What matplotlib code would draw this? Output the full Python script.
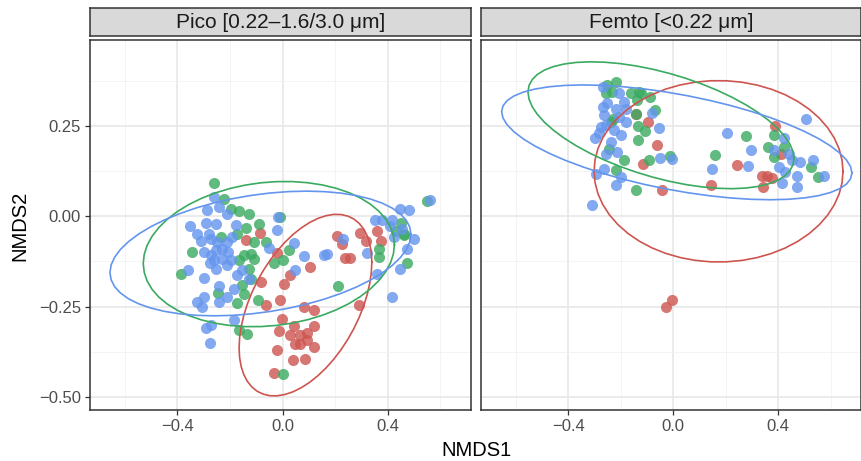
#!/usr/bin/env python3
# NMDS ordination, two size fractions, t-ellipses per group
import numpy as np
import matplotlib as mpl
import matplotlib.pyplot as plt

mpl.rcParams['font.family'] = ['Liberation Sans', 'DejaVu Sans']

facets = ['Pico [0.22\u20131.6/3.0 \u03bcm]', 'Femto [<0.22 \u03bcm]']
groups = ['red', 'green', 'blue']
colours = {'red': '#CD5550', 'green': '#3AAA60', 'blue': '#6495ED'}
ELLIPSE_LEVEL = 0.9

# ---- Pico panel ----
pico_red_x = [-0.141, -0.086, -0.021, 0.030, 0.007, -0.084, -0.065, -0.008, 0.104, 0.207,
              0.227, 0.294, 0.318, 0.239, 0.258, 0.360, 0.375, 0.290, 0.083, 0.119,
              -0.002, -0.014, 0.043, 0.030, 0.066, 0.091, 0.121, 0.049, 0.068, 0.093,
              0.119, -0.023, 0.040, 0.085, -0.033]
pico_red_y = [-0.065, -0.046, -0.102, -0.164, -0.187, -0.182, -0.247, -0.233, -0.141, -0.055,
              -0.078, -0.046, -0.069, -0.115, -0.115, -0.041, -0.069, -0.247, -0.250, -0.259,
              -0.284, -0.317, -0.303, -0.329, -0.329, -0.324, -0.304, -0.354, -0.354, -0.344,
              -0.363, -0.370, -0.398, -0.395, -0.435]

pico_green_x = [-0.261, -0.223, -0.198, -0.166, -0.128, -0.090, -0.141, -0.173, -0.236, -0.109,
                -0.065, -0.008, 0.024, -0.033, 0.002, -0.344, -0.385, -0.147, -0.122, -0.109,
                -0.166, -0.128, -0.122, -0.154, -0.147, -0.246, -0.175, -0.094, -0.164, -0.137,
                0.210, 0.366, 0.366, 0.461, 0.474, 0.550, 0.002, 0.449, 0.430, 0.460]
pico_green_y = [0.093, 0.049, 0.021, 0.015, 0.007, -0.020, -0.031, -0.048, -0.057, -0.071,
                -0.071, -0.002, -0.092, -0.129, -0.122, -0.099, -0.159, -0.108, -0.104, -0.118,
                -0.120, -0.145, -0.173, -0.191, -0.215, -0.213, -0.240, -0.231, -0.315, -0.326,
                -0.194, -0.113, -0.090, -0.053, -0.130, 0.043, -0.437, -0.018, -0.041, -0.050]

pico_blue_x = [-0.261, -0.287, -0.242, -0.211, -0.255, -0.293, -0.353, -0.327, -0.312, -0.274,
               -0.249, -0.211, -0.179, -0.192, -0.299, -0.274, -0.255, -0.230, -0.198, -0.276,
               -0.360, -0.299, -0.255, -0.211, -0.173, -0.154, -0.242, -0.185, -0.128, -0.299,
               -0.325, -0.306, -0.242, -0.211, -0.185, -0.290, -0.271, -0.276, -0.052, -0.018,
               -0.021, 0.045, 0.083, 0.049, 0.157, 0.170, 0.230, 0.322, 0.357, 0.353,
               0.379, 0.417, 0.410, 0.448, 0.480, 0.423, 0.455, 0.499, 0.474, 0.448,
               0.417, 0.562, -0.230, -0.208, -0.280, -0.262]
pico_blue_y = [0.054, 0.017, 0.026, 0.007, -0.020, -0.018, -0.028, -0.048, -0.067, -0.062,
               -0.071, -0.071, -0.025, -0.057, -0.099, -0.108, -0.094, -0.117, -0.122, -0.130,
               -0.148, -0.170, -0.145, -0.136, -0.164, -0.150, -0.192, -0.201, -0.173, -0.224,
               -0.238, -0.252, -0.238, -0.224, -0.287, -0.309, -0.300, -0.352, -0.087, -0.002,
               -0.039, -0.074, -0.111, -0.150, -0.108, -0.104, -0.062, -0.102, -0.159, -0.009,
               -0.009, -0.011, -0.028, 0.021, 0.017, -0.057, -0.034, -0.062, -0.090, -0.145,
               -0.224, 0.046, -0.090, -0.100, -0.050, -0.120]

# ---- Femto panel ----
femto_red_x = [-0.142, -0.094, -0.060, -0.114, -0.041, 0.143, 0.244, 0.337, 0.358, 0.375,
               0.342, 0.390, 0.413, -0.005, -0.026]
femto_red_y = [0.283, 0.262, 0.197, 0.144, 0.074, 0.086, 0.142, 0.111, 0.111, 0.105,
               0.080, 0.250, 0.174, -0.231, -0.250]

femto_green_x = [-0.218, -0.250, -0.256, -0.231, -0.161, -0.129, -0.123, -0.089, -0.136, -0.069,
                 -0.142, -0.228, -0.237, -0.132, -0.107, -0.132, -0.244, -0.187, -0.092, -0.013,
                 -0.216, -0.140, 0.158, 0.276, 0.362, 0.383, 0.421, 0.383, 0.527, 0.554]
femto_green_y = [0.373, 0.364, 0.341, 0.345, 0.341, 0.345, 0.341, 0.332, 0.324, 0.296,
                 0.285, 0.271, 0.262, 0.250, 0.236, 0.211, 0.188, 0.157, 0.156, 0.167,
                 0.128, 0.072, 0.170, 0.223, 0.193, 0.225, 0.191, 0.165, 0.137, 0.109]

femto_blue_x = [-0.269, -0.206, -0.187, -0.269, -0.250, -0.180, -0.218, -0.081, -0.263, -0.206,
                -0.180, -0.275, -0.256, -0.225, -0.199, -0.282, -0.297, -0.237, -0.256, -0.212,
                -0.053, -0.051, -0.005, -0.292, -0.263, -0.199, -0.218, -0.309, 0.207, 0.295,
                0.149, 0.286, 0.506, 0.421, 0.383, 0.440, 0.485, 0.532, 0.405, 0.428,
                0.472, 0.574, 0.415, 0.472, 0.453]
femto_blue_y = [0.359, 0.341, 0.318, 0.304, 0.313, 0.299, 0.299, 0.287, 0.281, 0.276,
                0.262, 0.248, 0.253, 0.239, 0.225, 0.230, 0.216, 0.207, 0.174, 0.179,
                0.244, 0.163, 0.160, 0.117, 0.130, 0.109, 0.086, 0.031, 0.232, 0.183,
                0.130, 0.140, 0.269, 0.216, 0.183, 0.172, 0.151, 0.157, 0.137, 0.123,
                0.111, 0.111, 0.093, 0.081, 0.156]

data = {
    facets[0]: {'red': (pico_red_x, pico_red_y),
                'green': (pico_green_x, pico_green_y),
                'blue': (pico_blue_x, pico_blue_y)},
    facets[1]: {'red': (femto_red_x, femto_red_y),
                'green': (femto_green_x, femto_green_y),
                'blue': (femto_blue_x, femto_blue_y)},
}


def cov_trob(xy, nu=5, maxit=25, tol=0.01):
    # same idea as MASS::cov.trob
    n, p = xy.shape
    loc = xy.mean(axis=0)
    w = np.ones(n)
    for _ in range(maxit):
        w0 = w
        X = xy - loc
        S = (w[:, None] * X).T @ X / w.sum()
        Q = np.einsum('ij,jk,ik->i', X, np.linalg.inv(S), X)
        w = (nu + p) / (nu + Q)
        loc = (w[:, None] * xy).sum(axis=0) / w.sum()
        if np.all(np.abs(w - w0) < tol):
            break
    X = xy - loc
    cov = (w[:, None] * X).T @ X / n
    return loc, cov


def stat_ellipse(x, y, level=0.95, segments=51):
    xy = np.column_stack([x, y])
    n = len(xy)
    loc, cov = cov_trob(xy)
    d = n - 1
    fq = d / 2 * ((1 - level) ** (-2 / d) - 1)  # qf(level, 2, d)
    radius = np.sqrt(2 * fq)
    t = np.linspace(0, 2 * np.pi, segments)
    circle = np.column_stack([np.cos(t), np.sin(t)])
    R = np.linalg.cholesky(cov).T
    return loc + radius * circle @ R


fig = plt.figure(figsize=(8.62, 4.61), dpi=100)
W, H = 862, 461
panels = [(90, 381), (481, 380)]
top, bottom = 40, 410

xlim = (-0.732, 0.716)
ylim = (-0.537, 0.489)

for i, (facet, (px, pw)) in enumerate(zip(facets, panels)):
    ax = fig.add_axes([px / W, (H - bottom) / H, pw / W, (bottom - top) / H])
    ax.set_xlim(xlim)
    ax.set_ylim(ylim)
    ax.set_xticks([-0.4, 0.0, 0.4])
    ax.set_xticks([-0.6, -0.2, 0.2, 0.6], minor=True)
    ax.set_yticks([-0.5, -0.25, 0.0, 0.25])
    ax.set_yticks([-0.375, -0.125, 0.125, 0.375], minor=True)
    ax.grid(which='major', color='#E8E8E8', lw=1.2)
    ax.grid(which='minor', color='#F2F2F2', lw=0.6)
    ax.set_axisbelow(True)
    for s in ax.spines.values():
        s.set_color('#333333')
        s.set_linewidth(1.1)
    ax.tick_params(which='major', length=3.5, width=0.9, color='#333333',
                   labelcolor='#4D4D4D', labelsize=12, pad=3)
    ax.tick_params(which='minor', length=0)
    ax.set_xticklabels(['\u22120.4', '0.0', '0.4'])
    if i == 0:
        ax.set_yticklabels(['\u22120.50', '\u22120.25', '0.00', '0.25'])
    else:
        ax.tick_params(axis='y', which='major', length=0, labelleft=False)

    for g in groups:
        gx, gy = data[facet][g]
        ax.scatter(gx, gy, s=64, color=colours[g], alpha=0.8, lw=0, zorder=3)
    for g in groups:
        gx, gy = data[facet][g]
        e = stat_ellipse(gx, gy, level=ELLIPSE_LEVEL)
        ax.plot(e[:, 0], e[:, 1], color=colours[g], lw=1.2, zorder=4)

    # facet strip
    sax = fig.add_axes([px / W, (H - 36) / H, pw / W, 28 / H])
    sax.set_facecolor('#D9D9D9')
    sax.set_xticks([])
    sax.set_yticks([])
    for s in sax.spines.values():
        s.set_color('#333333')
        s.set_linewidth(1.1)
    sax.text(0.5, 0.47, facet, ha='center', va='center', fontsize=15,
             color='#1A1A1A', transform=sax.transAxes)

fig.text(477 / W, 1 - 450 / H, 'NMDS1', ha='center', va='center', fontsize=14.5)
fig.text(20 / W, 1 - 226 / H, 'NMDS2', ha='center', va='center', fontsize=14.5,
         rotation=90)

fig.savefig('out.png', dpi=100)
